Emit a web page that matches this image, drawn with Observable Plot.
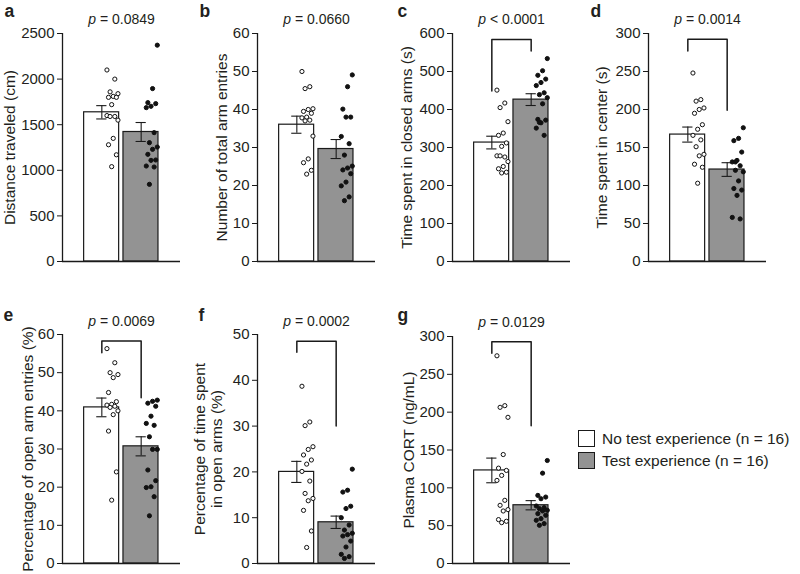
<!DOCTYPE html>
<html>
<head>
<meta charset="utf-8">
<script src="https://cdn.jsdelivr.net/npm/d3@7"></script>
<script src="https://cdn.jsdelivr.net/npm/@observablehq/plot@0.6"></script>
<style>
  html, body { margin: 0; padding: 0; background: #fff; }
  #chart { position: relative; width: 800px; height: 574px; background: #fff;
           font-family: "Liberation Sans", Arial, sans-serif; color: #231f20; overflow: hidden; }
  #chart svg { position: absolute; overflow: visible; }
  .legend { position: absolute; left: 578px; top: 430px; font-size: 15.5px; line-height: 17px; }
  .legend .row { display: flex; align-items: center; height: 17px; margin-bottom: 5px; white-space: nowrap; }
  .legend .box { width: 15px; height: 15px; border: 1.3px solid #1a1a1a; margin-right: 7px; box-sizing: content-box; }
</style>
</head>
<body>
<div id="chart"></div>
<script>
// ---------- data ----------
const groups = ["No test experience (n = 16)", "Test experience (n = 16)"];
const groupFills = ["#ffffff", "#939393"];
const panelLetters = ["a", "b", "c", "d", "e", "f", "g"];
const yLabels = [
  "Distance traveled (cm)",
  "Number of total arm entries",
  "Time spent in closed arms (s)",
  "Time spent in center (s)",
  "Percentage of open arm entries (%)",
  "Percentage of time spent\nin open arms (%)",
  "Plasma CORT (ng/mL)"
];
const pLabels = ["p = 0.0849", "p = 0.0660", "p < 0.0001", "p = 0.0014", "p = 0.0069", "p = 0.0002", "p = 0.0129"];
const yTicks = [
  [0, 500, 1000, 1500, 2000, 2500],
  [0, 10, 20, 30, 40, 50, 60],
  [0, 100, 200, 300, 400, 500, 600],
  [0, 50, 100, 150, 200, 250, 300],
  [0, 10, 20, 30, 40, 50, 60],
  [0, 10, 20, 30, 40, 50],
  [0, 50, 100, 150, 200, 250, 300]
];
const meanNoTest = [1636, 36.0, 313, 167, 40.9, 20.0, 123];
const meanTest   = [1420, 29.6, 426, 121, 30.7, 9.0, 77];
const semNoTest  = [73, 2.25, 16.7, 9.9, 2.45, 2.3, 16.3];
const semTest    = [104, 2.5, 15.5, 9.0, 2.5, 1.35, 6.1];

const aNoTest = [2100, 2000, 1860, 1840, 1810, 1800, 1800, 1720, 1600, 1590, 1590, 1550, 1350, 1280, 1170, 1040];
const aTest   = [2372, 1896, 1742, 1731, 1702, 1687, 1413, 1303, 1255, 1230, 1175, 1113, 1109, 1047, 1036, 846];
const bNoTest = [50, 46, 45.5, 40.2, 40, 39.5, 39, 38, 37.8, 37.2, 37, 33, 27, 26, 24, 23];
const bTest   = [49.1, 46, 40.1, 38, 38, 32.9, 31, 28, 25.1, 24.6, 24.1, 23.1, 20.9, 19.9, 17, 16];
const cNoTest = [451, 417, 405, 368, 338, 332, 312, 303, 278, 275, 278, 263, 250, 244, 235, 233];
const cTest   = [534, 502, 490, 480, 471, 463, 444, 439, 431, 415, 374, 372, 365, 351, 332, 366];
const dNoTest = [248, 213, 211, 202, 200, 195, 180, 174, 166, 160, 151, 141, 139, 128, 124, 103];
const dTest   = [176, 162, 159, 144, 133, 131, 126, 120, 118, 106, 96, 94, 87, 58, 56, 131];
const eNoTest = [56.3, 52.6, 50, 49.5, 48.7, 44.8, 42.4, 41.7, 41.5, 41.2, 40.9, 40, 39, 34.7, 24, 16.6];
const eTest   = [42.8, 42.5, 42, 41.2, 38.6, 36.7, 36.2, 33.2, 29.9, 29.9, 24.5, 21.7, 20.1, 19.9, 17.5, 12.5];
const fNoTest = [38.7, 30.9, 30.1, 25.5, 24.9, 23.7, 22.6, 21.7, 20.1, 18.0, 15.3, 14.2, 13.7, 11.6, 7.1, 3.5];
const fTest   = [20.6, 16.0, 15.6, 12.5, 12.0, 10.0, 8.4, 7.3, 6.6, 6.3, 6.0, 4.9, 3.6, 2.0, 1.5, 1.1];
const gNoTest = [274.5, 208.6, 206.4, 193.2, 144, 126, 123, 116.4, 109.8, 83.5, 76.9, 71.2, 69.4, 58, 55.8, 54];
const gTest   = [136.1, 119.4, 90, 87.8, 85.6, 76, 73.8, 72.5, 70.3, 69.4, 65.9, 63.7, 59.3, 57.1, 52.7, 50.5];
const pointsNoTest = [aNoTest, bNoTest, cNoTest, dNoTest, eNoTest, fNoTest, gNoTest];
const pointsTest   = [aTest, bTest, cTest, dTest, eTest, fTest, gTest];

// significance brackets: [left leg end, top, right leg end] (null = none)
const bracketLeft  = [null, null, 449, 277, 55.2, 46.1, 278];
const bracketTop   = [null, null, 584, 292.5, 58.3, 48.5, 293];
const bracketRight = [null, null, 554, 199, 43.4, 30.0, 182];

// ---------- layout ----------
const layout = [
  {left: 0,   top: 0,   mt: 33, fh: 228, labelDx: 53,   letterX: 4, letterY: 16, pDy: 10},
  {left: 195, top: 0,   mt: 33, fh: 228, labelDx: 35.5, letterX: 4, letterY: 16, pDy: 10},
  {left: 390, top: 0,   mt: 33, fh: 228, labelDx: 46,   letterX: 7, letterY: 16, pDy: 10},
  {left: 586, top: 0,   mt: 33, fh: 228, labelDx: 47,   letterX: 4, letterY: 16, pDy: 10},
  {left: 0,   top: 300, mt: 34, fh: 229, labelDx: 35,   letterX: 3, letterY: 20, pDy: 9},
  {left: 195, top: 300, mt: 34, fh: 229, labelDx: 49,   letterX: 3, letterY: 20, pDy: 9},
  {left: 390, top: 300, mt: 36, fh: 227, labelDx: 44,   letterX: 7, letterY: 20, pDy: 10}
];
const ML = 62, MR = 10, MB = 8;
const jit = i => (((i * 5) % 8) - 3.5) * 0.04;
const font = "Liberation Sans, Arial, sans-serif";

const chart = document.getElementById("chart");

panelLetters.forEach((letter, k) => {
  const L = layout[k];
  const yMax = yTicks[k][yTicks[k].length - 1];
  const bars = [
    {g: 1, v: meanNoTest[k], s: semNoTest[k], fill: groupFills[0]},
    {g: 2, v: meanTest[k],   s: semTest[k],   fill: groupFills[1]}
  ];
  const dots = [
    ...pointsNoTest[k].map((v, i) => ({x: 1.27 + jit(i), y: v, fill: "#ffffff"})),
    ...pointsTest[k].map((v, i) => ({x: 2.27 + jit(i + 3), y: v, fill: "#111111"}))
  ];
  const marks = [
    Plot.rectY(bars, {x1: d => d.g - 0.45, x2: d => d.g + 0.44, y1: 0, y2: "v", fill: "fill", stroke: "#1a1a1a", strokeWidth: 1.2}),
    Plot.ruleX(bars, {x: "g", y1: d => d.v - d.s, y2: d => d.v + d.s, stroke: "#1a1a1a", strokeWidth: 1.1}),
    Plot.ruleY(bars, {y: d => d.v + d.s, x1: d => d.g - 0.13, x2: d => d.g + 0.13, stroke: "#1a1a1a", strokeWidth: 1.1}),
    Plot.ruleY(bars, {y: d => d.v - d.s, x1: d => d.g - 0.13, x2: d => d.g + 0.13, stroke: "#1a1a1a", strokeWidth: 1.1}),
    Plot.dot(dots, {x: "x", y: "y", r: 2.1, fill: "fill", stroke: "#111", strokeWidth: 1}),
    Plot.ruleY([0], {x1: 0, x2: 3, stroke: "#1a1a1a", strokeWidth: 1.3}),
    Plot.ruleX([0], {y1: 0, y2: yMax, stroke: "#1a1a1a", strokeWidth: 1.3}),
    Plot.axisY({ticks: yTicks[k], tickSize: 5, tickPadding: 3, fontSize: 15, label: null, tickFormat: d => String(d), stroke: "#1a1a1a"}),
    Plot.text([yLabels[k]], {frameAnchor: "left", rotate: -90, dx: -L.labelDx, fontSize: 15.5, textAnchor: "middle", lineAnchor: "middle", lineHeight: 1.1}),
    Plot.text([pLabels[k]], {x: 1.5, frameAnchor: "top", dy: -L.pDy, lineAnchor: "bottom", fontSize: 14}),
    Plot.text([letter], {frameAnchor: "top-left", dx: -(ML - L.letterX), dy: -(L.mt - L.letterY), textAnchor: "start", lineAnchor: "bottom", fontWeight: "bold", fontSize: 17.5})
  ];
  if (bracketTop[k] != null) {
    const br = [
      {x: 1, y: bracketLeft[k]}, {x: 1, y: bracketTop[k]},
      {x: 2, y: bracketTop[k]}, {x: 2, y: bracketRight[k]}
    ];
    marks.push(Plot.line(br, {x: "x", y: "y", stroke: "#1a1a1a", strokeWidth: 1.5, curve: "linear"}));
  }
  const svg = Plot.plot({
    width: ML + 118 + MR,
    height: L.mt + L.fh + MB,
    marginLeft: ML, marginRight: MR, marginTop: L.mt, marginBottom: MB,
    x: {domain: [0, 3], axis: null},
    y: {domain: [0, yMax], axis: null},
    style: {fontFamily: font, color: "#231f20", background: "transparent", overflow: "visible"},
    marks
  });
  svg.style.left = L.left + "px";
  svg.style.top = L.top + "px";
  // italic "p" in the p-value label
  svg.querySelectorAll("text").forEach(t => {
    if (t.textContent === pLabels[k]) {
      const rest = pLabels[k].slice(1);
      t.textContent = "";
      const ts = document.createElementNS("http://www.w3.org/2000/svg", "tspan");
      ts.setAttribute("font-style", "italic");
      ts.textContent = "p";
      t.appendChild(ts);
      t.appendChild(document.createTextNode(rest));
    }
  });
  chart.appendChild(svg);
});

// legend
const legend = document.createElement("div");
legend.className = "legend";
groups.forEach((g, i) => {
  const row = document.createElement("div");
  row.className = "row";
  const box = document.createElement("div");
  box.className = "box";
  box.style.background = groupFills[i];
  const label = document.createElement("span");
  label.textContent = g;
  row.appendChild(box);
  row.appendChild(label);
  legend.appendChild(row);
});
chart.appendChild(legend);
</script>
</body>
</html>
